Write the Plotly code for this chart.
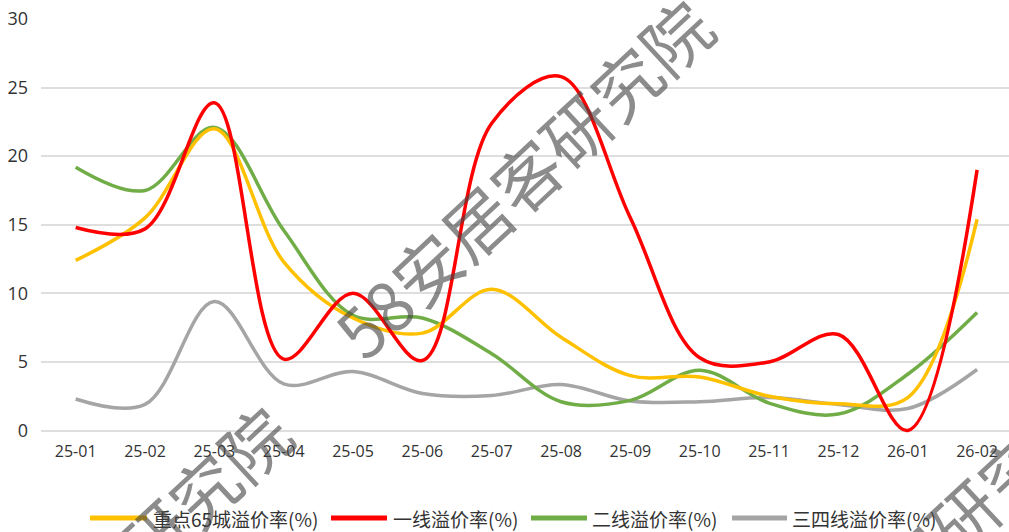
import plotly.graph_objects as go

# Monthly land premium rates (%)
months = ["25-01", "25-02", "25-03", "25-04", "25-05", "25-06", "25-07",
          "25-08", "25-09", "25-10", "25-11", "25-12", "26-01", "26-02"]

key65 = [12.4, 15.5, 22.0, 12.3, 8.2, 7.1, 10.3, 6.8, 4.0, 3.9, 2.5, 1.95, 2.4, 15.4]
tier1 = [14.8, 14.7, 23.9, 5.2, 10.0, 5.1, 22.4, 25.8, 15.5, 5.3, 5.0, 7.0, 0.0, 19.0]
tier2 = [19.2, 17.5, 22.1, 14.6, 8.4, 8.2, 5.6, 2.1, 2.2, 4.4, 2.0, 1.2, 4.1, 8.6]
tier34 = [2.3, 1.9, 9.4, 3.4, 4.3, 2.7, 2.55, 3.35, 2.15, 2.1, 2.4, 1.9, 1.6, 4.45]

names = ["重点65城溢价率(%)", "一线溢价率(%)", "二线溢价率(%)", "三四线溢价率(%)"]
colors = ["#FFC000", "#FF0000", "#70AD47", "#A5A5A5"]
series = [key65, tier1, tier2, tier34]

W, H = 1009, 532
ML, MR, MT, MB = 41, 0, 19, 96
PW, PH = W - ML - MR, H - MT - MB


def px_x(p):
    return (p - ML) / PW


def px_y(p):
    return (H - MB - p) / PH


fig = go.Figure()
# draw order: grey first so the coloured lines sit on top
for idx in [3, 2, 0, 1]:
    fig.add_trace(go.Scatter(
        x=months, y=series[idx], name=names[idx], mode="lines",
        line=dict(color=colors[idx], width=3.5, shape="spline", smoothing=1),
        showlegend=False, hoverinfo="x+y+name",
    ))

# legend row along the bottom
legend_line_x = [(90, 147), (331, 387), (531, 587), (732, 787)]
legend_text_x = [151, 391, 590, 790]
legend_y = 518
shapes = []
annotations = []
for i in range(4):
    x0, x1 = legend_line_x[i]
    shapes.append(dict(type="line", xref="paper", yref="paper",
                       x0=px_x(x0), x1=px_x(x1), y0=px_y(legend_y), y1=px_y(legend_y),
                       line=dict(color=colors[i], width=5)))
    annotations.append(dict(xref="paper", yref="paper", x=px_x(legend_text_x[i]),
                            y=px_y(legend_y), text=names[i], showarrow=False,
                            xanchor="left", yanchor="middle",
                            font=dict(size=19, color="#333333",
                                      family="Noto Sans CJK SC")))

# diagonal watermark text
wm = "58安居客研究院"
for cx, cy in [(522, 178), (100, 584), (909, 564)]:
    annotations.append(dict(xref="paper", yref="paper", x=px_x(cx), y=px_y(cy),
                            text=wm, showarrow=False, textangle=-43,
                            xanchor="center", yanchor="middle",
                            font=dict(size=68, color="rgba(70,70,70,0.62)",
                                      family="Noto Sans CJK SC")))

fig.update_layout(
    width=W, height=H,
    margin=dict(l=ML, r=MR, t=MT, b=MB),
    paper_bgcolor="white", plot_bgcolor="white",
    font=dict(family="Noto Sans CJK SC", color="#333333"),
    shapes=shapes, annotations=annotations,
    xaxis=dict(type="category", range=[-0.5, 13.46], showgrid=False,
               showline=False, zeroline=False, ticks="",
               tickfont=dict(size=16, color="#333333", family="Open Sans"),
               ticklabelstandoff=4),
    yaxis=dict(range=[-0.4, 30], tickvals=[0, 5, 10, 15, 20, 25, 30],
               showgrid=True, gridcolor="#dedede", gridwidth=1.5,
               zeroline=False, showline=False, ticks="",
               tickfont=dict(size=18, color="#333333", family="Open Sans"),
               ticklabelstandoff=12),
)

fig.write_html("out.html")
